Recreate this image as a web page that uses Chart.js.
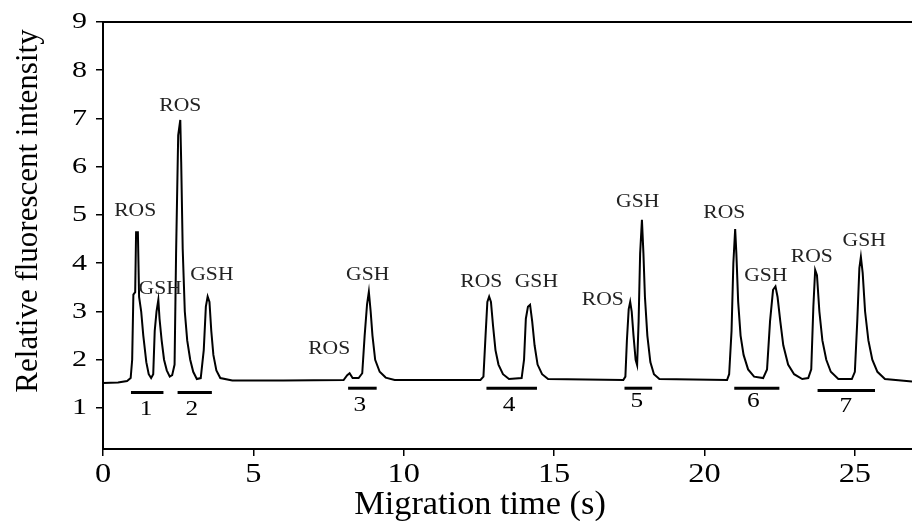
<!DOCTYPE html>
<html>
<head>
<meta charset="utf-8">
<script src="https://cdn.jsdelivr.net/npm/chart.js@4/dist/chart.umd.min.js"></script>
<style>
  html, body { margin: 0; padding: 0; background: #fff; }
  canvas { display: block; }
</style>
</head>
<body>
<canvas id="chart1" width="912" height="521"></canvas>
<script>
// trace
const timeS = [0, 0.5, 0.8, 0.92, 0.97, 1.01, 1.07, 1.1, 1.16, 1.2, 1.27, 1.34, 1.44, 1.52, 1.6, 1.67, 1.72, 1.78, 1.84, 1.88, 1.95, 2.03, 2.12, 2.22, 2.3, 2.38, 2.43, 2.5, 2.57, 2.6, 2.65, 2.72, 2.8, 2.9, 3.0, 3.12, 3.25, 3.35, 3.42, 3.48, 3.54, 3.6, 3.67, 3.77, 3.9, 4.3, 6.0,
  8.0, 8.12, 8.2, 8.3, 8.5, 8.62, 8.7, 8.78, 8.84, 8.9, 8.96, 9.05, 9.2, 9.4, 9.7,
  12.55, 12.65, 12.72, 12.78, 12.84, 12.9, 12.97, 13.05, 13.15, 13.3, 13.5, 13.92, 14.0, 14.06, 14.13, 14.2, 14.27, 14.35, 14.45, 14.6, 14.8,
  17.3, 17.37, 17.42, 17.48, 17.53, 17.58, 17.64, 17.71, 17.76, 17.81, 17.86, 17.92, 17.97, 18.02, 18.1, 18.2, 18.32, 18.5,
  20.75, 20.82, 20.9, 20.96, 21.02, 21.06, 21.12, 21.2, 21.3, 21.45, 21.65, 21.95, 22.08, 22.18, 22.28, 22.36, 22.43, 22.52, 22.62, 22.78, 22.98, 23.25,
  23.45, 23.55, 23.62, 23.68, 23.74, 23.82, 23.92, 24.05, 24.2, 24.45, 24.9, 25.0, 25.08, 25.15, 25.2, 25.26, 25.34, 25.45, 25.58, 25.75, 26.0, 26.9];
const intensity = [1.52, 1.53, 1.56, 1.62, 2.0, 3.35, 3.4, 4.64, 4.64, 3.3, 3.0, 2.5, 1.95, 1.7, 1.62, 1.7, 2.6, 3.0, 3.24, 2.85, 2.4, 2.0, 1.78, 1.65, 1.68, 1.9, 4.2, 6.65, 6.97, 6.1, 4.3, 3.0, 2.4, 2.0, 1.75, 1.6, 1.62, 2.2, 3.1, 3.31, 3.2, 2.6, 2.1, 1.78, 1.62, 1.57, 1.57,
  1.58, 1.68, 1.72, 1.62, 1.62, 1.72, 2.5, 3.15, 3.41, 3.0, 2.5, 2.0, 1.75, 1.63, 1.58,
  1.58, 1.65, 2.5, 3.2, 3.31, 3.2, 2.7, 2.2, 1.9, 1.7, 1.6, 1.62, 2.0, 2.85, 3.1, 3.14, 2.8, 2.3, 1.9, 1.7, 1.6,
  1.58, 1.65, 2.4, 3.05, 3.2, 3.0, 2.5, 2.0, 1.89, 2.8, 4.2, 4.9, 4.2, 3.3, 2.5, 1.95, 1.7, 1.6,
  1.58, 1.7, 2.6, 4.0, 4.71, 4.2, 3.2, 2.5, 2.1, 1.8, 1.65, 1.62, 1.8, 2.8, 3.45, 3.52, 3.3, 2.8, 2.3, 1.9, 1.7, 1.6,
  1.62, 1.8, 3.1, 3.86, 3.75, 3.0, 2.4, 2.0, 1.75, 1.6, 1.6, 1.75, 2.8, 3.9, 4.13, 3.8, 3.0, 2.4, 2.0, 1.75, 1.6, 1.55];

// peak names
const peakNames = ["ROS", "GSH", "ROS", "GSH", "ROS", "GSH", "ROS", "GSH", "ROS", "GSH", "ROS", "GSH", "ROS", "GSH"];
const peakNameX = [1.07, 1.9, 2.57, 3.62, 7.52, 8.8, 12.58, 14.41, 16.62, 17.78, 20.66, 22.04, 23.57, 25.31];
const peakNameY = [5.08, 3.47, 7.25, 3.76, 2.22, 3.76, 3.6, 3.6, 3.24, 5.26, 5.04, 3.74, 4.13, 4.45];

// sample groups underlined below the trace
const groupNames = ["1", "2", "3", "4", "5", "6", "7"];
const groupStart = [0.93, 2.48, 8.15, 12.75, 17.34, 20.99, 23.76];
const groupEnd = [2.01, 3.62, 9.1, 14.43, 18.26, 22.49, 25.67];
const groupLineY = [1.32, 1.32, 1.41, 1.41, 1.41, 1.41, 1.36];
const groupNameX = [1.43, 2.95, 8.54, 13.5, 17.75, 21.62, 24.7];
const groupNameY = [0.97, 0.97, 1.06, 1.06, 1.13, 1.13, 1.03];

const xTicks = [0, 5, 10, 15, 20, 25];
const yTicks = [1, 2, 3, 4, 5, 6, 7, 8, 9];

const serif = "'Liberation Serif', 'DejaVu Serif', serif";

const datasets = [{
  data: timeS.map((t, i) => ({ x: t, y: intensity[i] })),
  borderColor: "#000",
  borderWidth: 2,
  pointRadius: 0,
  tension: 0,
}];
groupStart.forEach((s, i) => {
  datasets.push({
    data: [{ x: s, y: groupLineY[i] }, { x: groupEnd[i], y: groupLineY[i] }],
    borderColor: "#000",
    borderWidth: 3,
    pointRadius: 0,
  });
});

// the original figure is a bit wider than tall, text looks stretched
function wideText(ctx, text, x, y, sx) {
  ctx.save();
  ctx.translate(x, y);
  ctx.scale(sx, 1);
  ctx.fillText(text, 0, 0);
  ctx.restore();
}

const textPlugin = {
  id: "texts",
  afterDatasetsDraw(chart) {
    const ctx = chart.ctx;
    const xs = chart.scales.x;
    const ys = chart.scales.y;
    const a = chart.chartArea;
    ctx.save();
    ctx.strokeStyle = "#000";
    ctx.lineWidth = 2;
    ctx.beginPath();
    ctx.moveTo(a.left, a.top);
    ctx.lineTo(a.right, a.top);
    ctx.stroke();

    // tick labels
    ctx.fillStyle = "#000";
    ctx.textBaseline = "middle";
    ctx.textAlign = "right";
    ctx.font = "24px " + serif;
    yTicks.forEach((v) => wideText(ctx, String(v), 87, ys.getPixelForValue(v), 1.25));
    ctx.textAlign = "center";
    ctx.font = "27px " + serif;
    xTicks.forEach((v) => wideText(ctx, String(v), xs.getPixelForValue(v), 475, 1.2));

    ctx.fillStyle = "#222";
    ctx.font = "18px " + serif;
    peakNames.forEach((name, i) => {
      wideText(ctx, name, xs.getPixelForValue(peakNameX[i]), ys.getPixelForValue(peakNameY[i]), 1.2);
    });
    ctx.fillStyle = "#000";
    ctx.font = "22px " + serif;
    groupNames.forEach((name, i) => {
      wideText(ctx, name, xs.getPixelForValue(groupNameX[i]), ys.getPixelForValue(groupNameY[i]), 1.15);
    });

    // axis titles
    ctx.font = "33px " + serif;
    wideText(ctx, "Migration time (s)", 480, 505, 1.04);
    ctx.translate(29, 211);
    ctx.rotate(-Math.PI / 2);
    ctx.font = "31px " + serif;
    ctx.fillText("Relative fluorescent intensity", 0, 0);
    ctx.restore();
  },
};

new Chart(document.getElementById("chart1").getContext("2d"), {
  type: "line",
  data: { datasets: datasets },
  options: {
    responsive: false,
    animation: false,
    layout: { padding: { top: 22, right: 0, left: 0, bottom: 0 } },
    plugins: { legend: { display: false }, tooltip: { enabled: false } },
    scales: {
      x: {
        type: "linear",
        min: 0,
        max: 26.9,
        afterFit: (s) => { s.height = 72; },
        afterBuildTicks: (s) => { s.ticks = xTicks.map((v) => ({ value: v })); },
        border: { display: true, color: "#000", width: 2 },
        grid: { display: true, drawOnChartArea: false, drawTicks: true, tickLength: 7, color: "#000", lineWidth: 1.5 },
        ticks: { display: false },
      },
      y: {
        type: "linear",
        min: 0.15,
        max: 9,
        afterFit: (s) => { s.width = 103; },
        afterBuildTicks: (s) => { s.ticks = yTicks.map((v) => ({ value: v })); },
        border: { display: true, color: "#000", width: 2 },
        grid: { display: true, drawOnChartArea: false, drawTicks: true, tickLength: 7, color: "#000", lineWidth: 1.5 },
        ticks: { display: false },
      },
    },
  },
  plugins: [textPlugin],
});
</script>
</body>
</html>
